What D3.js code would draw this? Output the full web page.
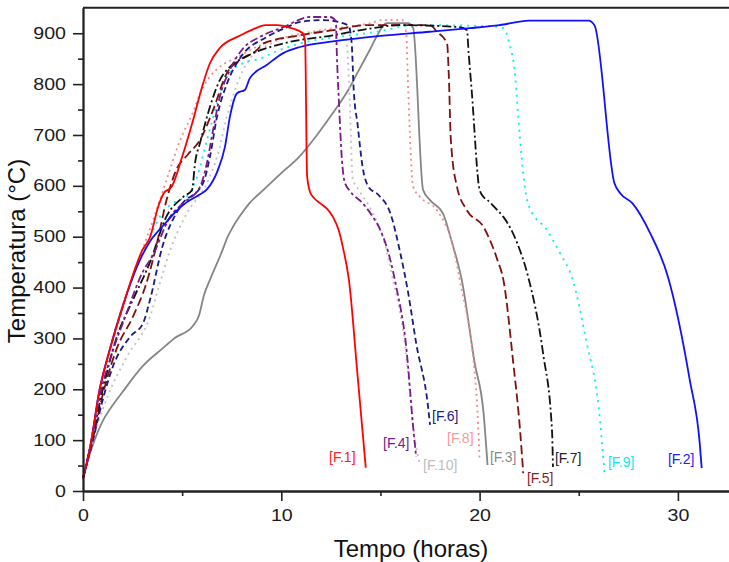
<!DOCTYPE html>
<html><head><meta charset="utf-8">
<script src="https://cdn.jsdelivr.net/npm/d3@7"></script>
<style>html,body{margin:0;padding:0;background:#fff;}svg{display:block;font-family:"Liberation Sans",Arial,sans-serif;}</style>
</head><body><svg id="c" width="729" height="562"></svg>
<script>
// ---- data ----
const xTicks = [0, 10, 20, 30];
const xMinor = [5, 15, 25];
const yTicks = [0, 100, 200, 300, 400, 500, 600, 700, 800, 900];
const yMinor = [50, 150, 250, 350, 450, 550, 650, 750, 850];
const xTitle = "Tempo (horas)";
const yTitle = "Temperatura (°C)";

const f1 = [[0,25],[0.34,81],[0.84,199],[1.35,277],[2.0,362],[3.0,474],[3.38,499],[3.8,560],[4.05,584],[4.5,600],[5.0,657],[5.55,729],[6.0,794],[6.4,841],[6.9,871],[7.9,895],[8.6,908],[9.2,916],[9.8,916],[10.5,910],[11.05,901],[11.2,885],[11.3,620],[11.45,588],[11.65,576],[11.95,566],[12.3,555],[12.6,539],[12.9,512],[13.1,480],[13.41,415],[13.84,230],[14.26,46]];
const f2 = [[0,25],[0.34,82],[0.84,200],[1.35,278],[2.0,363],[2.87,454],[3.4,492],[4.05,522],[4.7,550],[5.24,568],[5.8,581],[6.25,593],[6.8,631],[7.16,677],[7.41,736],[7.77,782],[8.17,789],[8.42,812],[9.28,838],[10.1,861],[10.94,873],[12.6,884],[15.0,895],[17.5,903],[19.5,910],[21.0,916],[22.5,925],[25.5,925],[25.8,915],[26.8,605],[27.1,585],[27.7,566],[28.6,507],[29.5,421],[30.6,218],[31.1,94],[31.2,45]];
const f3 = [[0,25],[0.3,68],[0.6,102],[1.0,138],[1.4,163],[2.0,195],[3.0,245],[4.0,280],[4.6,300],[5.55,325],[5.85,345],[6.1,385],[6.4,415],[7.0,470],[7.3,500],[7.57,520],[7.9,540],[8.4,566],[9.1,592],[10.0,625],[10.9,657],[11.8,700],[12.6,743],[13.4,790],[14.0,834],[14.5,870],[14.8,893],[15.3,920],[16.4,920],[16.65,910],[17.15,592],[17.5,572],[18.15,546],[18.6,490],[19.1,415],[19.75,252],[20.2,153],[20.4,51]];
const f4 = [[0,25],[0.4,92],[0.9,195],[1.5,275],[2.2,350],[3.0,430],[3.5,462],[4.39,539],[5.05,566],[5.9,598],[6.25,645],[6.56,710],[6.9,775],[7.41,828],[8.07,870],[8.93,893],[10.1,912],[11.45,932],[12.45,932],[12.75,924],[12.8,860],[12.9,770],[13.06,650],[13.2,607],[13.46,590],[14.1,566],[14.6,540],[15.0,513],[15.5,454],[15.8,401],[16.3,283],[16.65,126],[16.8,67]];
const f5 = [[0,25],[0.4,85],[1.0,190],[1.7,280],[2.52,343],[3.2,409],[3.73,487],[4.2,570],[4.7,631],[5.3,662],[5.9,690],[6.56,749],[7.26,822],[7.9,847],[8.77,867],[9.1,880],[10.94,896],[12.6,906],[14.3,916],[17.5,916],[17.85,903],[18.36,880],[18.45,814],[18.55,690],[18.86,598],[19.36,552],[20.2,519],[20.9,454],[21.2,415],[21.7,251],[22.04,120],[22.2,35]];
const f6 = [[0,25],[0.5,100],[1.0,180],[1.5,244],[2.37,303],[3.03,330],[3.38,376],[4.0,480],[4.9,559],[6.05,605],[6.4,657],[6.76,736],[7.26,801],[7.9,850],[9.28,893],[10.3,912],[10.9,922],[12.1,926],[13.1,920],[13.4,914],[13.55,880],[13.65,790],[13.85,720],[14.1,637],[14.4,598],[14.9,582],[15.5,546],[16.0,468],[16.4,389],[16.8,291],[17.4,166],[17.5,130]];
const f7 = [[0,25],[0.5,110],[1.0,200],[1.68,300],[2.52,376],[3.38,450],[4.2,539],[5.05,578],[5.5,592],[5.65,645],[5.9,684],[6.4,755],[6.9,808],[7.41,834],[8.27,855],[10.1,880],[12.6,896],[14.6,910],[16.0,916],[19.0,912],[19.36,906],[19.45,860],[19.6,788],[20.0,592],[20.2,578],[20.4,572],[20.9,552],[21.2,539],[21.9,487],[22.45,421],[23.2,271],[23.65,120],[23.7,47]];
const f8 = [[0,25],[0.34,85],[0.84,200],[1.35,280],[2.0,365],[3.0,475],[3.6,540],[4.2,610],[4.9,690],[5.55,745],[6.0,790],[6.4,815],[6.9,834],[7.9,855],[8.42,867],[10.0,890],[12.0,906],[14.5,920],[15.1,926],[16.1,926],[16.3,900],[16.4,788],[16.65,598],[17.0,578],[17.85,552],[18.7,474],[19.0,415],[19.85,185],[20.0,61]];
const f9 = [[0,25],[0.34,80],[0.84,198],[1.35,275],[2.0,360],[3.0,470],[3.5,510],[4.05,550],[4.55,566],[5.4,585],[5.75,617],[6.25,690],[6.76,762],[7.26,814],[8.07,841],[8.93,850],[9.6,862],[10.94,880],[13.5,896],[14.8,903],[16.8,916],[20.5,914],[21.2,910],[21.5,880],[21.8,814],[21.95,736],[22.3,592],[22.5,559],[23.4,513],[24.05,468],[24.7,415],[25.4,291],[26.0,166],[26.3,35]];
const f10 = [[0,25],[0.5,100],[1.17,179],[2.2,263],[3.38,343],[3.88,409],[4.4,474],[5.24,546],[6.25,605],[6.76,657],[7.26,736],[7.77,800],[8.42,850],[9.5,880],[11.0,896],[12.5,906],[13.1,906],[13.3,880],[13.45,770],[13.6,615],[13.9,592],[14.5,555],[15.3,474],[15.6,421],[16.2,300],[16.74,100],[17.0,51]];

const seriesNames = ["[F.1]","[F.2]","[F.3]","[F.4]","[F.5]","[F.6]","[F.7]","[F.8]","[F.9]","[F.10]"];
const seriesData = [f1,f2,f3,f4,f5,f6,f7,f8,f9,f10];
// label anchor (time, temperature) for each series label
const labelTime = [12.41, 29.5, 20.52, 15.13, 22.39, 17.6, 23.8, 18.36, 26.47, 17.15];
const labelTemp = [57, 53, 57, 85, 16, 138, 55, 94, 47, 41];

// ---- styles ----
const colors = ["#ff0000","#1010ff","#858585","#7a1a8a","#801010","#1a1a85","#111111","#f58a8a","#00f0f0","#c0c0c0"];
const labelColors = ["#ff2020","#2020ff","#8a8a8a","#7a1a8a","#8a2020","#1a1a85","#222222","#f59a9a","#10e8f0","#bdbdbd"];
const dashes = [null,null,null,"8,3,3,3","9,4",null,"9,3,2,3","2,3.6","2,5","2,4"];
dashes[5] = "6,3.5";
const drawOrder = [2,9,7,8,4,6,5,3,1,0];

const svg = d3.select("#c");
const x = d3.scaleLinear().domain([0, 33]).range([83, 83 + 33 * 19.83]);
const y = d3.scaleLinear().domain([0, 950]).range([491, 491 - 950 * 0.5086]);

// frame top line
svg.append("line").attr("x1", x(0)).attr("x2", x(33)).attr("y1", y(950)).attr("y2", y(950))
  .attr("stroke", "#222").attr("stroke-width", 2);

// lines
const line = d3.line().x(d => x(d[0])).y(d => y(d[1])).curve(d3.curveMonotoneX);
drawOrder.forEach(i => {
  svg.append("path").datum(seriesData[i])
    .attr("d", line).attr("fill", "none")
    .attr("stroke", colors[i]).attr("stroke-width", 1.8)
    .attr("stroke-linejoin", "round")
    .attr("stroke-dasharray", dashes[i]);
});

// labels
seriesNames.forEach((n, i) => {
  svg.append("text").attr("x", x(labelTime[i])).attr("y", y(labelTemp[i]))
    .attr("fill", labelColors[i]).attr("font-size", 14).text(n);
});

// axes
const yAxis = svg.append("g").attr("transform", `translate(${x(0)},0)`)
  .call(d3.axisLeft(y).tickValues(yTicks).tickSize(10).tickSizeOuter(0).tickPadding(7));
svg.append("g").attr("transform", `translate(${x(0)},0)`)
  .call(d3.axisLeft(y).tickValues(yMinor).tickSize(5).tickSizeOuter(0).tickFormat(""));
const xAxis = svg.append("g").attr("transform", `translate(0,${y(0)})`)
  .call(d3.axisBottom(x).tickValues(xTicks).tickSize(10).tickSizeOuter(0).tickPadding(9));
svg.append("g").attr("transform", `translate(0,${y(0)})`)
  .call(d3.axisBottom(x).tickValues(xMinor).tickSize(5).tickSizeOuter(0).tickFormat(""));

svg.selectAll(".domain").attr("stroke", "#222").attr("stroke-width", 1.8);
svg.selectAll(".tick line").attr("stroke", "#222").attr("stroke-width", 1.6);
svg.selectAll(".tick text").attr("font-size", 16).attr("fill", "#1a1a1a")
  .attr("font-family", '"Liberation Sans", Arial, sans-serif')
  .attr("textLength", d => String(d).length * 10.9).attr("lengthAdjust", "spacingAndGlyphs");

// titles
svg.append("text").attr("x", 411).attr("y", 557).attr("text-anchor", "middle")
  .attr("font-size", 24).attr("fill", "#111").text(xTitle);
svg.append("text").attr("transform", "translate(25,251) rotate(-90)").attr("text-anchor", "middle")
  .attr("font-size", 24).attr("fill", "#111").text(yTitle);
</script></body></html>
